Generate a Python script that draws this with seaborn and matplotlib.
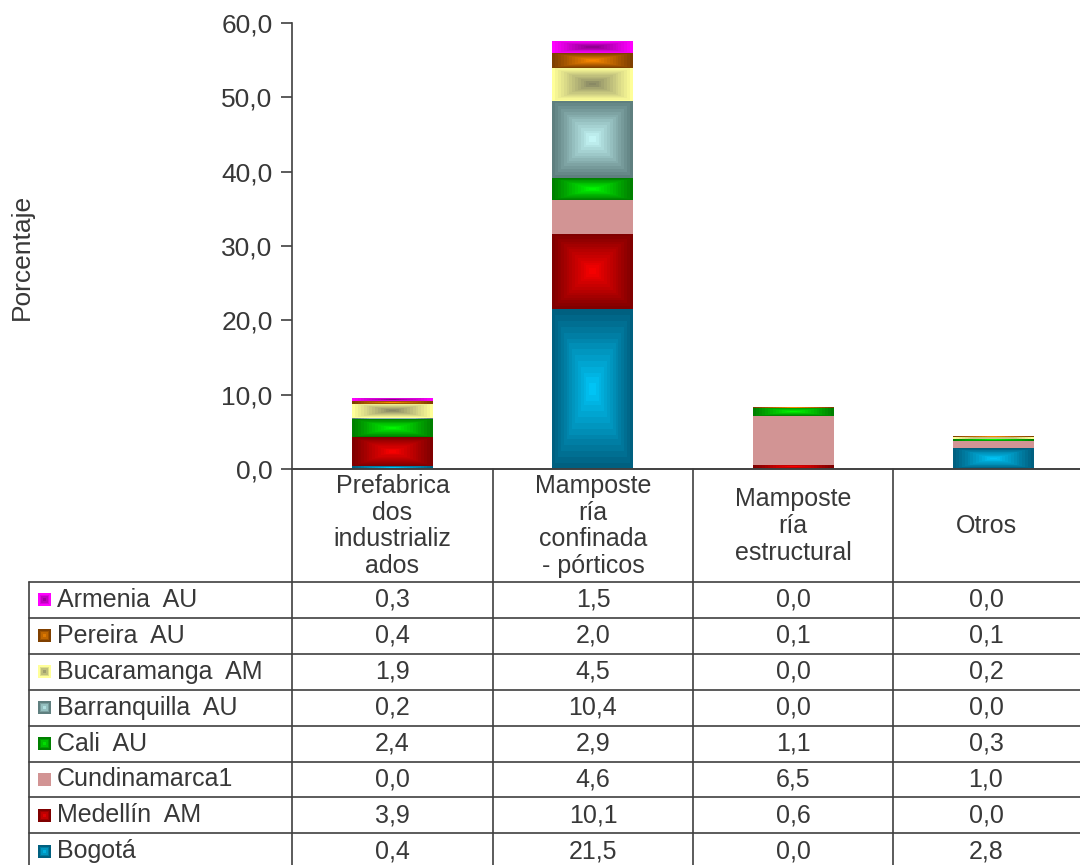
import numpy as np
import matplotlib
matplotlib.use('Agg')
import matplotlib.pyplot as plt
from matplotlib.colors import to_rgb
import seaborn as sns

# data (table order, top to bottom)
categories = ['Prefabrica\ndos\nindustrializ\nados', 'Mamposte\nría\nconfinada\n- pórticos',
              'Mamposte\nría\nestructural', 'Otros']
series = ['Armenia  AU', 'Pereira  AU', 'Bucaramanga  AM', 'Barranquilla  AU',
          'Cali  AU', 'Cundinamarca1', 'Medellín  AM', 'Bogotá']
armenia = [0.3, 1.5, 0.0, 0.0]
pereira = [0.4, 2.0, 0.1, 0.1]
bucaramanga = [1.9, 4.5, 0.0, 0.2]
barranquilla = [0.2, 10.4, 0.0, 0.0]
cali = [2.4, 2.9, 1.1, 0.3]
cundinamarca = [0.0, 4.6, 6.5, 1.0]
medellin = [3.9, 10.1, 0.6, 0.0]
bogota = [0.4, 21.5, 0.0, 2.8]
values = [armenia, pereira, bucaramanga, barranquilla, cali, cundinamarca, medellin, bogota]

# (edge colour, centre colour) of the "from centre" gradient fill
fills = [('#ff00ff', '#800080'), ('#804000', '#ff8c00'), ('#ffff99', '#808060'),
         ('#5f7f7f', '#ccffff'), ('#008000', '#00ff00'), ('#d29494', '#d29494'),
         ('#800000', '#ff0000'), ('#006080', '#00ccff')]

TXT = '#383838'
LINE = '#404040'
FS = 18

sns.set_theme(style='white')
plt.rcParams['font.family'] = ['Liberation Sans', 'DejaVu Sans']
plt.rcParams['text.color'] = TXT


def rect_gradient(edge, center, n=80, steps=14):
    u = np.linspace(-1, 1, n)
    U, V = np.meshgrid(u, u)
    t = np.maximum(np.abs(U), np.abs(V))
    t = np.ceil(t * steps) / steps
    e = np.array(to_rgb(edge))
    c = np.array(to_rgb(center))
    return c + (e - c) * t[..., None]


W, H = 1080, 865
fig = plt.figure(figsize=(W / 100, H / 100), dpi=100)
# plot area in pixels: x 292..1093 (4 columns of ~200 px), y 22..469
ax = fig.add_axes([292 / W, 1 - 469 / H, 801 / W, 446 / H])

bottom = np.zeros(len(categories))
groups = []
for name, vals, (edge, center) in reversed(list(zip(series, values, fills))):
    n0 = len(ax.patches)
    sns.barplot(x=categories, y=vals, bottom=bottom.copy(), color=center, width=0.4,
                saturation=1, errorbar=None, linewidth=0, ax=ax)
    groups.append((ax.patches[n0:], edge, center))
    bottom += np.array(vals)

for patches, edge, center in groups:
    img = rect_gradient(edge, center)
    for p in patches:
        x0, y0 = p.get_x(), p.get_y()
        w, h = p.get_width(), p.get_height()
        if h <= 0:
            continue
        ax.imshow(img, extent=[x0, x0 + w, y0, y0 + h], aspect='auto',
                  interpolation='nearest', zorder=p.get_zorder() + 0.1)

ax.set_xlim(-0.5, 3.5)
ax.set_ylim(0, 60)
ax.set_yticks(range(0, 61, 10))
ax.set_yticklabels([f'{v:.1f}'.replace('.', ',') for v in range(0, 61, 10)])
ax.tick_params(axis='y', left=True, length=8, width=1.2, color=LINE, pad=6,
               labelsize=19, labelcolor=TXT)
ax.tick_params(axis='x', bottom=False, labelbottom=False)
ax.set_xlabel('')
ax.set_ylabel('')
sns.despine(ax=ax, top=True, right=True)
ax.spines['left'].set_color(LINE)
ax.spines['left'].set_linewidth(1.2)
ax.spines['bottom'].set_color(LINE)
ax.spines['bottom'].set_linewidth(1.2)

fig.text(22 / W, 1 - 257 / H, 'Porcentaje', rotation=90, ha='center', va='center',
         fontsize=19, color=TXT)

# data table below the chart, drawn in pixel coordinates
ov = fig.add_axes([0, 0, 1, 1], zorder=5)
ov.set_xlim(0, W)
ov.set_ylim(H, 0)
ov.axis('off')
ov.patch.set_alpha(0)

col_edges = [292, 493, 693, 893]
col_centers = [392.5, 593, 793, 986]
row_top = 582
row_h = 35.9
table_bottom = row_top + row_h * len(series)

ov.plot([292, W], [469, 469], color=LINE, lw=1.2)
for x in col_edges:
    ov.plot([x, x], [469, table_bottom], color=LINE, lw=1.2)
ov.plot([29, 29], [row_top, table_bottom], color=LINE, lw=1.2)
for i in range(len(series) + 1):
    y = row_top + i * row_h
    ov.plot([29, W], [y, y], color=LINE, lw=1.2)

for cx, cat in zip(col_centers, categories):
    ov.text(cx, 526, cat, ha='center', va='center', fontsize=FS, color=TXT,
            linespacing=1.15, multialignment='center')

for i, (name, vals, (edge, center)) in enumerate(zip(series, values, fills)):
    yc = row_top + (i + 0.5) * row_h
    ov.imshow(rect_gradient(edge, center, n=12, steps=4),
              extent=[38, 51, yc + 6.5, yc - 6.5], interpolation='nearest', zorder=6)
    ov.text(57, yc, name, ha='left', va='center', fontsize=FS, color=TXT)
    for cx, v in zip(col_centers, vals):
        ov.text(cx, yc, f'{v:.1f}'.replace('.', ','), ha='center', va='center',
                fontsize=FS, color=TXT)
ov.set_xlim(0, W)
ov.set_ylim(H, 0)

fig.savefig('out.png', dpi=100)
